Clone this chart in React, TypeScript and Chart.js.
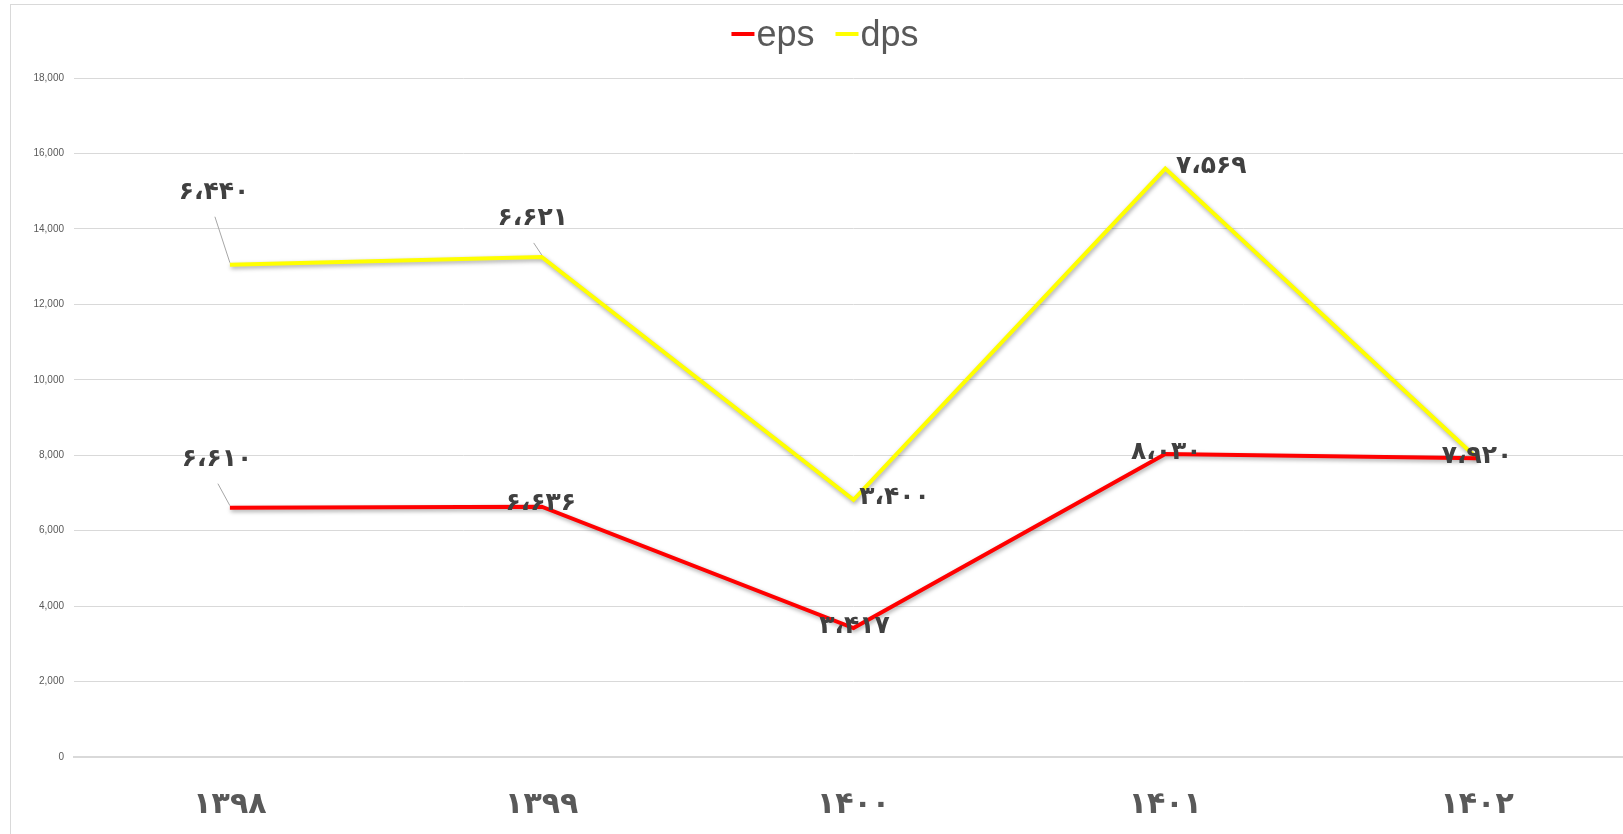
import React, { useEffect, useRef } from "react";
import { Chart, registerables } from "chart.js";
Chart.register(...registerables);

// ---- data ----
const categories = ["۱۳۹۸", "۱۳۹۹", "۱۴۰۰", "۱۴۰۱", "۱۴۰۲"];
const epsValues = [6610, 6636, 3417, 8030, 7920];
const dpsValues = [6440, 6621, 3400, 7569, 0];
const yMin = 0;
const yMax = 18000;
const yStep = 2000;

// label offsets (px, relative to point) – style only
const epsLabelOffsets = [[-13, -48], [-1, -3], [1, -2], [1, -2], [0, -2]];
const dpsLabelOffsets = [[-16, -72], [-9, -38], [41, -2], [46, -2], [0, 0]];

const faDigits = "۰۱۲۳۴۵۶۷۸۹";
const toPersian = (n: number) =>
  n
    .toLocaleString("en-US")
    .replace(/\d/g, (d) => faDigits[Number(d)])
    .replace(/,/g, "،");

const shadowPlugin = {
  id: "lineShadow",
  beforeDatasetDraw(chart: any) {
    const ctx = chart.ctx;
    ctx.save();
    ctx.shadowColor = "rgba(0,0,0,0.35)";
    ctx.shadowBlur = 4;
    ctx.shadowOffsetX = 1;
    ctx.shadowOffsetY = 2;
  },
  afterDatasetDraw(chart: any) {
    chart.ctx.restore();
  },
};

const labelPlugin = {
  id: "customLabels",
  afterDatasetsDraw(chart: any) {
    const ctx = chart.ctx;
    const offsets = [epsLabelOffsets, dpsLabelOffsets];
    chart.data.datasets.forEach((ds: any, di: number) => {
      const meta = chart.getDatasetMeta(di);
      meta.data.forEach((pt: any, i: number) => {
        const v = ds.data[i];
        if (!v) return;
        const [dx, dy] = offsets[di][i];
        const lx = pt.x + dx;
        const ly = pt.y + dy;
        if (dy < -20) {
          ctx.save();
          ctx.strokeStyle = "#a6a6a6";
          ctx.lineWidth = 1;
          ctx.beginPath();
          ctx.moveTo(lx + 1, ly + 24);
          ctx.lineTo(pt.x, pt.y - 2);
          ctx.stroke();
          ctx.restore();
        }
        ctx.save();
        ctx.font = "bold 25px 'DejaVu Sans'";
        ctx.fillStyle = "#404040";
        ctx.textAlign = "center";
        ctx.textBaseline = "middle";
        ctx.fillText(toPersian(v), lx, ly);
        ctx.restore();
      });
    });
  },
};

const legendPlugin = {
  id: "customLegend",
  afterDraw(chart: any) {
    const ctx = chart.ctx;
    ctx.save();
    ctx.font = "36px 'Liberation Sans'";
    const items = chart.data.datasets.map((d: any) => ({
      label: d.label,
      color: d.borderColor,
      w: ctx.measureText(d.label).width,
    }));
    const lineW = 23;
    const gapText = 2;
    const gapItem = 21;
    const total =
      items.reduce((s: number, it: any) => s + lineW + gapText + it.w, 0) +
      gapItem * (items.length - 1);
    let x = chart.width / 2 - total / 2;
    const baseY = 46;
    items.forEach((it: any) => {
      ctx.fillStyle = it.color;
      ctx.fillRect(x, 32, lineW, 4);
      x += lineW + gapText;
      ctx.fillStyle = "#595959";
      ctx.textBaseline = "alphabetic";
      ctx.textAlign = "left";
      ctx.fillText(it.label, x, baseY);
      x += it.w + gapItem;
    });
    ctx.restore();
  },
};

export default function App() {
  const ref = useRef<HTMLCanvasElement | null>(null);
  useEffect(() => {
    if (!ref.current) return;
    const chart = new Chart(ref.current, {
      type: "line",
      data: {
        labels: categories,
        datasets: [
          {
            label: "eps",
            data: epsValues,
            borderColor: "#ff0000",
            backgroundColor: "#ff0000",
            borderWidth: 4,
            pointRadius: 0,
            tension: 0,
            fill: false,
            borderJoinStyle: "miter",
          },
          {
            label: "dps",
            data: dpsValues,
            borderColor: "#ffff00",
            backgroundColor: "#ffff00",
            borderWidth: 4,
            pointRadius: 0,
            tension: 0,
            fill: false,
            borderJoinStyle: "miter",
          },
        ],
      },
      options: {
        responsive: false,
        animation: false,
        devicePixelRatio: 1,
        layout: { padding: { top: 78, right: 17, left: 0, bottom: 0 } },
        plugins: {
          legend: { display: false },
          tooltip: { enabled: false },
          title: { display: false },
        },
        scales: {
          x: {
            type: "category",
            offset: true,
            grid: { display: false, drawTicks: false },
            border: { display: true, color: "#d9d9d9", width: 2 },
            ticks: {
              color: "#595959",
              font: { family: "'DejaVu Sans'", size: 30, weight: "bold" },
              padding: 30,
              maxRotation: 0,
            },
            afterFit: (s: any) => {
              s.height = 77;
            },
          },
          y: {
            stacked: true,
            min: yMin,
            max: yMax,
            grid: { color: "#d9d9d9", drawTicks: false, lineWidth: 1 },
            border: { display: false },
            ticks: {
              stepSize: yStep,
              color: "#595959",
              font: { family: "'Liberation Sans'", size: 10 },
              padding: 10,
              callback: (v: any) => Number(v).toLocaleString("en-US"),
            },
            afterFit: (s: any) => {
              s.width = 74;
            },
          },
        },
      },
      plugins: [shadowPlugin, labelPlugin, legendPlugin],
    } as any);
    return () => chart.destroy();
  }, []);

  return (
    <div
      style={{
        position: "absolute",
        left: 0,
        top: 0,
        width: 1623,
        height: 834,
        overflow: "hidden",
        background: "#ffffff",
      }}
    >
      <div
        style={{
          position: "absolute",
          left: 10,
          top: 4,
          width: 1700,
          height: 900,
          borderLeft: "1px solid #d9d9d9",
          borderTop: "1px solid #d9d9d9",
        }}
      />
      <canvas
        ref={ref}
        width={1650}
        height={834}
        style={{ position: "absolute", left: 0, top: 0, display: "block" }}
      />
    </div>
  );
}
